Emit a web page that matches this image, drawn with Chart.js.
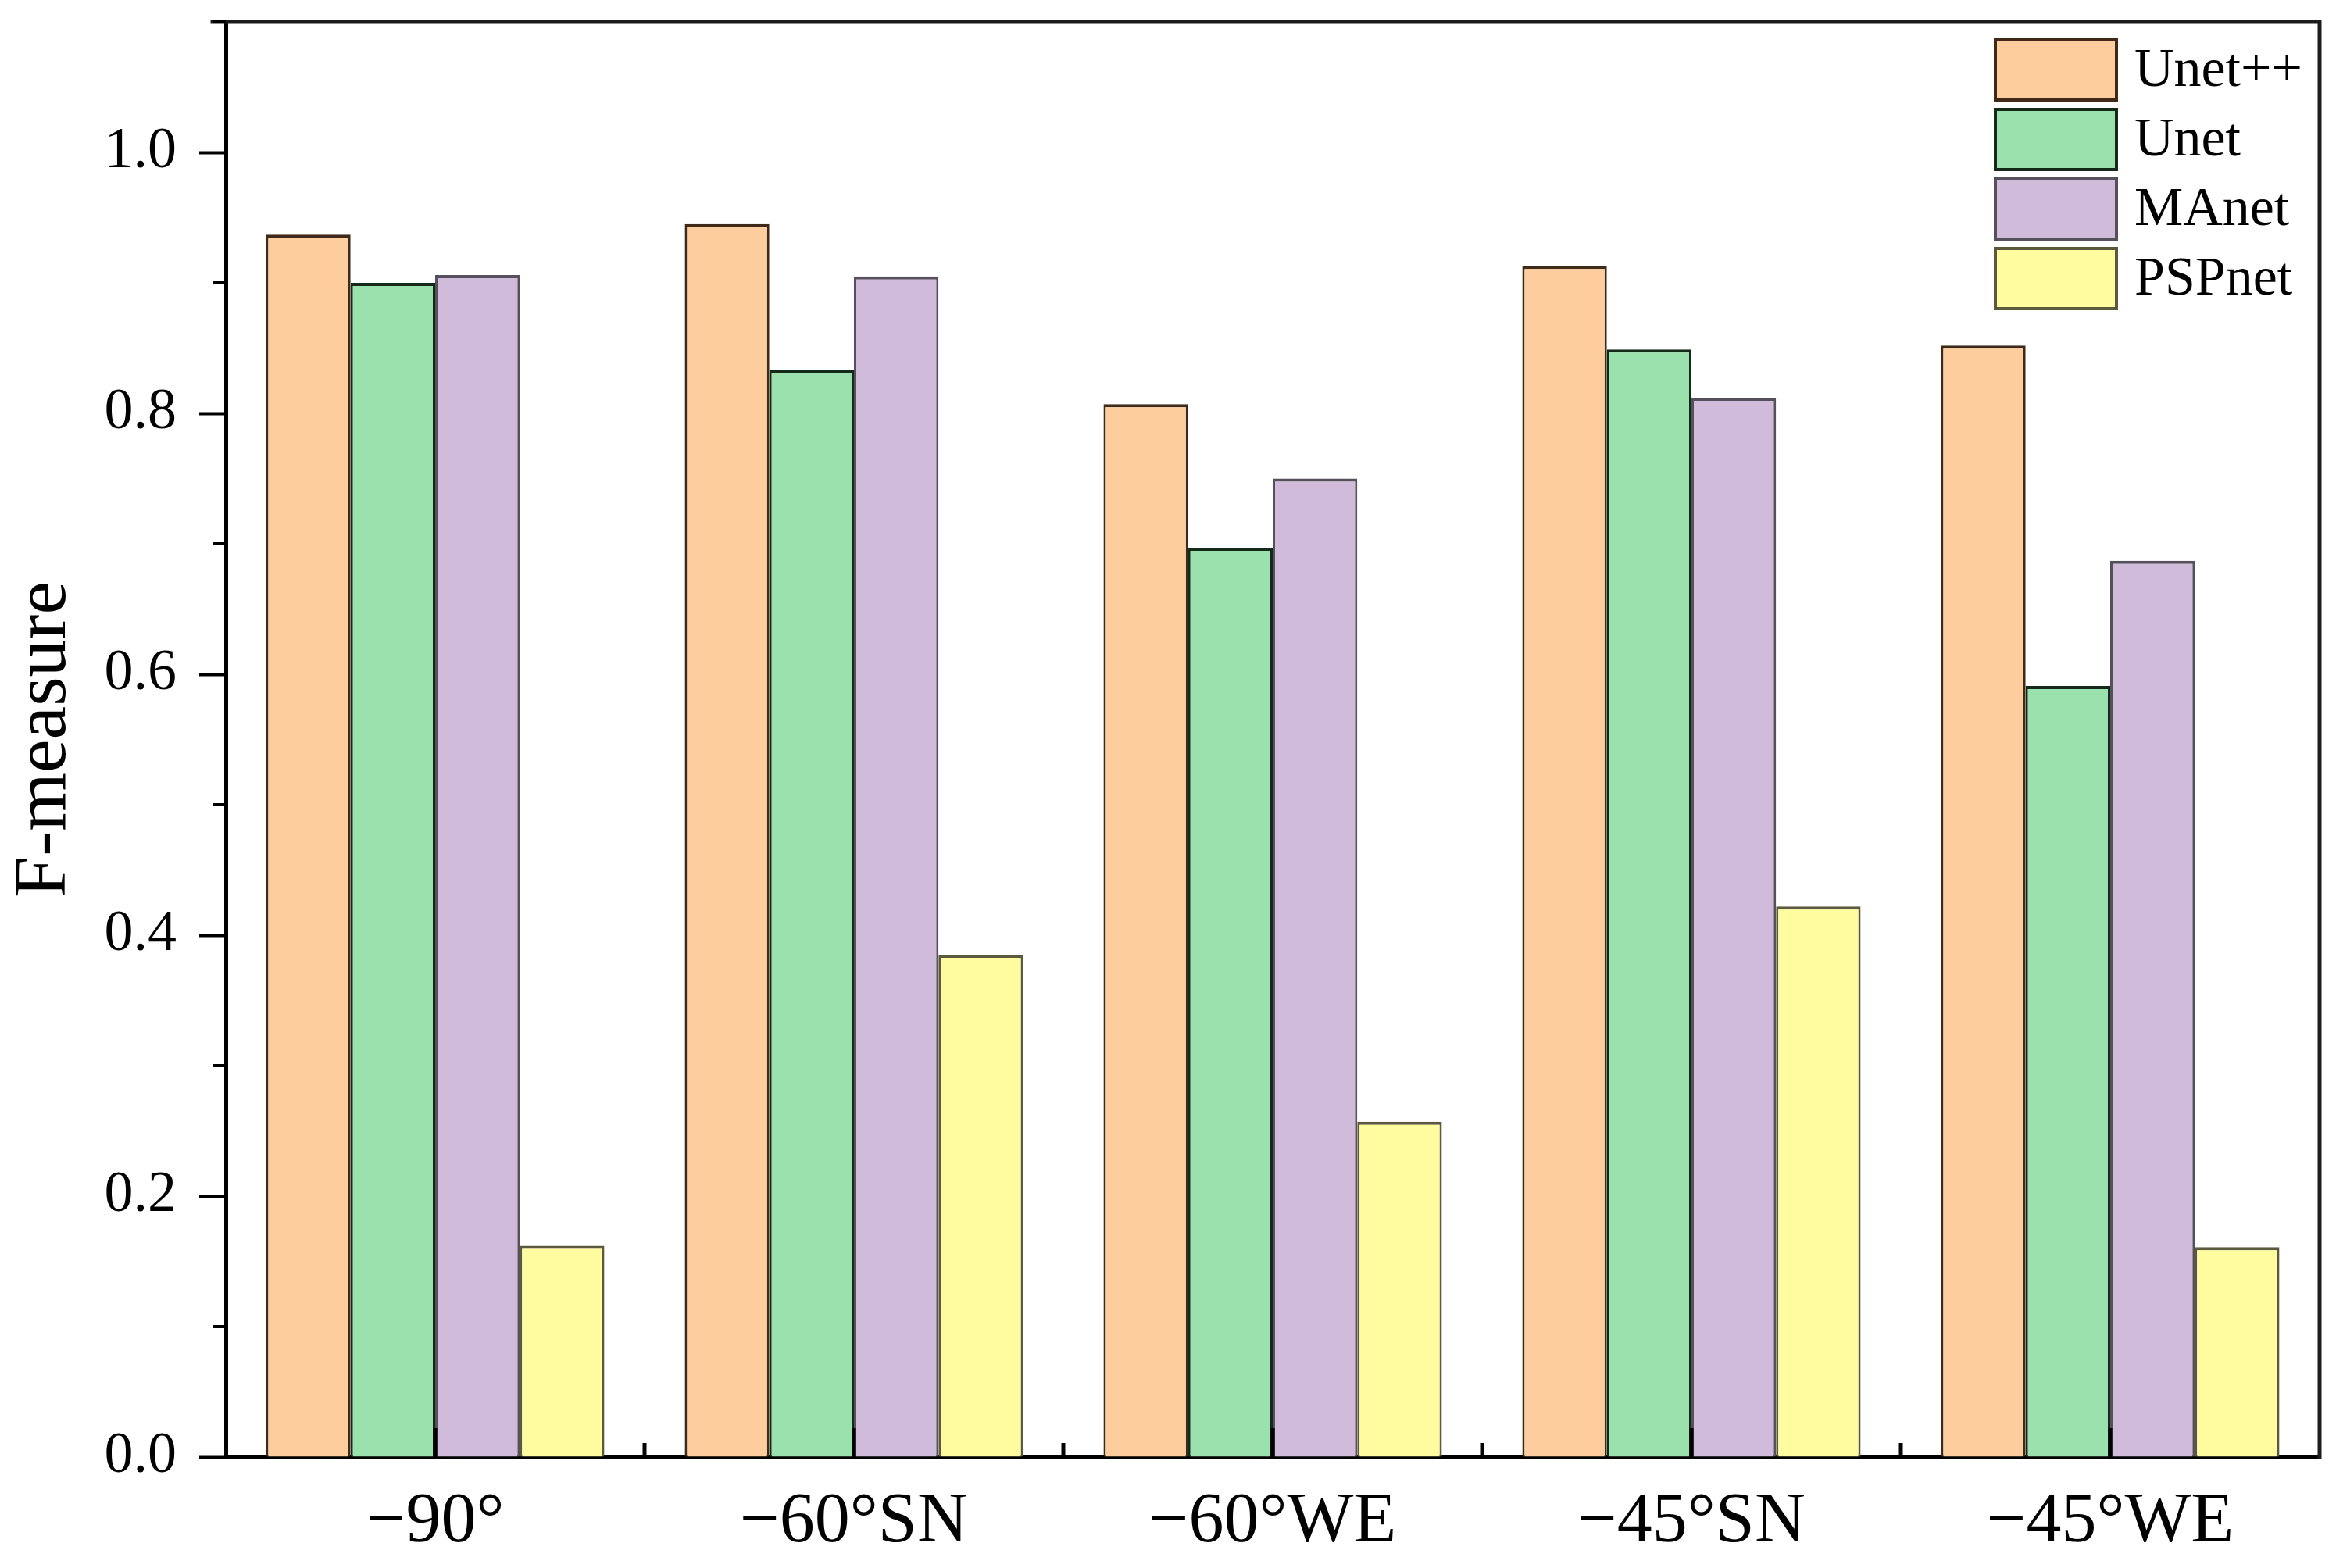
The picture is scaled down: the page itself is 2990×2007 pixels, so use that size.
<!DOCTYPE html>
<html><head><meta charset="utf-8">
<script src="https://cdn.jsdelivr.net/npm/chart.js@4.4.1/dist/chart.umd.min.js"></script>
<style>html,body{margin:0;padding:0;background:#fff;} canvas{display:block;}</style>
</head><body>
<canvas id="c" width="2990" height="2007" style="width:2990px;height:2007px"></canvas>
<script>
const categories = ['\u221290\u00b0', '\u221260\u00b0SN', '\u221260\u00b0WE', '\u221245\u00b0SN', '\u221245\u00b0WE'];
const seriesNames = ['Unet++', 'Unet', 'MAnet', 'PSPnet'];
const unetpp = [0.937, 0.945, 0.807, 0.913, 0.852];
const unet   = [0.900, 0.833, 0.697, 0.849, 0.591];
const manet  = [0.906, 0.905, 0.750, 0.812, 0.687];
const pspnet = [0.162, 0.385, 0.257, 0.422, 0.161];
const yMajorTicks = ['0.0', '0.2', '0.4', '0.6', '0.8', '1.0'];

const fills   = ['#FECD9D', '#9BE1AD', '#D1BBDB', '#FEFC9E'];
const borders = ['#3F2A1A', '#132A18', '#55505C', '#5C5A3E'];
const seriesValues = [unetpp, unet, manet, pspnet];

const isMajor = v => yMajorTicks.indexOf(Number(v).toFixed(1)) >= 0 && Math.abs(v * 10 - Math.round(v * 10)) < 1e-6;

const decor = {
  id: 'decor',
  afterDraw(chart) {
    const {ctx, chartArea: a, scales: {x, y}} = chart;
    ctx.save();
    const line = (x1, y1, x2, y2) => { ctx.beginPath(); ctx.moveTo(x1, y1); ctx.lineTo(x2, y2); ctx.stroke(); };
    // frame top & right
    ctx.strokeStyle = '#1c1c1c'; ctx.lineWidth = 5; ctx.lineCap = 'square';
    ctx.beginPath(); ctx.moveTo(a.left - 17, a.top); ctx.lineTo(a.right, a.top); ctx.lineTo(a.right, a.bottom); ctx.stroke();
    ctx.lineCap = 'butt';
    // y minor ticks (outward)
    ctx.strokeStyle = '#000'; ctx.lineWidth = 4;
    y.ticks.forEach(t => {
      if (!isMajor(t.value)) { const py = y.getPixelForValue(t.value); line(a.left - 17, py, a.left, py); }
    });
    // x ticks (inward)
    const n = chart.data.labels.length;
    const half = (x.getPixelForValue(1) - x.getPixelForValue(0)) / 2;
    ctx.lineWidth = 5;
    for (let i = 0; i < n; i++) {
      const px = x.getPixelForValue(i);
      line(px, a.bottom, px, a.bottom - 37);
      if (i < n - 1) line(px + half, a.bottom, px + half, a.bottom - 18);
    }
    // legend
    const boxL = a.right - 415, boxW = 155, boxH = 77, pitch = 89, top0 = a.top + 23;
    ctx.font = '70px "Liberation Serif"'; ctx.textBaseline = 'middle'; ctx.textAlign = 'left';
    chart.data.datasets.forEach((ds, i) => {
      const ty = top0 + i * pitch;
      ctx.fillStyle = ds.backgroundColor; ctx.fillRect(boxL, ty, boxW, boxH);
      ctx.strokeStyle = ds.borderColor; ctx.lineWidth = 4; ctx.strokeRect(boxL, ty, boxW, boxH);
      ctx.fillStyle = '#000'; ctx.fillText(ds.label, a.right - 237, ty + boxH / 2 + 2);
    });
    ctx.restore();
  }
};

new Chart(document.getElementById('c').getContext('2d'), {
  type: 'bar',
  data: {
    labels: categories,
    datasets: seriesNames.map((name, i) => ({
      label: name,
      data: seriesValues[i],
      backgroundColor: fills[i],
      borderColor: borders[i],
      borderWidth: {top: 4, left: 3, right: 3, bottom: 0},
      borderSkipped: 'bottom',
      categoryPercentage: 0.808,
      barPercentage: 1.0
    }))
  },
  options: {
    responsive: false,
    animation: false,
    devicePixelRatio: 1,
    layout: {padding: {left: 0, top: 28, right: 21, bottom: 0}},
    plugins: {legend: {display: false}, tooltip: {enabled: false}},
    scales: {
      x: {
        grid: {display: false, drawTicks: false},
        border: {display: true, color: '#000', width: 5},
        ticks: {font: {family: 'Liberation Serif', size: 90}, color: '#000', padding: 30},
        afterFit(s) { s.height = 142; s.paddingLeft = 0; s.paddingRight = 0; }
      },
      y: {
        min: 0, max: 1.1,
        ticks: {
          stepSize: 0.1, autoSkip: false,
          font: {family: 'Liberation Serif', size: 74}, color: '#000', padding: 29,
          callback: v => isMajor(v) ? Number(v).toFixed(1) : ''
        },
        grid: {
          drawOnChartArea: false, drawTicks: true, tickLength: 34, tickWidth: 4,
          tickColor: c => (c.tick && isMajor(c.tick.value)) ? '#000' : 'rgba(0,0,0,0)'
        },
        border: {display: true, color: '#000', width: 5},
        title: {display: true, text: 'F-measure', font: {family: 'Liberation Serif', size: 96}, color: '#000', padding: {top: 0, bottom: 0}},
        afterFit(s) { s.width = 289; s.paddingTop = 0; s.paddingBottom = 0; }
      }
    }
  },
  plugins: [decor]
});
</script>
</body></html>
